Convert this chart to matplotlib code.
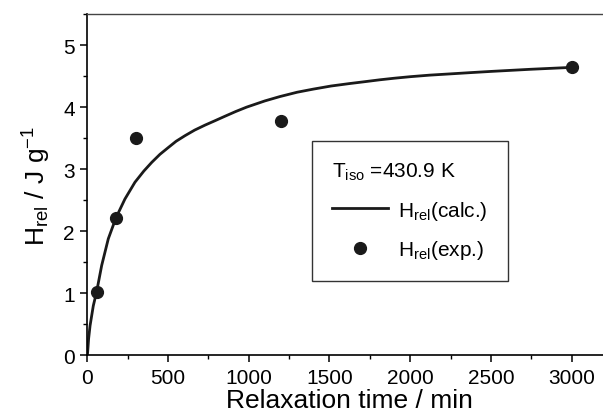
import numpy as np
import matplotlib
matplotlib.use("Agg")
import matplotlib.pyplot as plt
from matplotlib.lines import Line2D
from matplotlib.ticker import MultipleLocator

plt.rcParams["font.family"] = ["Liberation Sans", "DejaVu Sans"]
plt.rcParams["mathtext.fontset"] = "custom"
plt.rcParams["mathtext.rm"] = "Liberation Sans"
plt.rcParams["mathtext.it"] = "Liberation Sans:italic"

t_exp = [60, 180, 300, 1200, 3000]
h_exp = [1.02, 2.22, 3.51, 3.78, 4.65]

# Calculated curve
t_calc = [0, 2, 8, 17, 37, 58, 89, 130, 178, 233, 295, 350, 399, 450, 502,
          550, 605, 665, 729, 790, 850, 920, 987, 1100, 1193, 1300, 1400,
          1510, 1626, 1720, 1812, 1900, 2000, 2120, 2246, 2370, 2500, 2750,
          3000]
h_calc = [0, 0.05, 0.27, 0.48, 0.80, 1.03, 1.45, 1.88, 2.22, 2.52, 2.79, 2.97,
          3.11, 3.24, 3.35, 3.45, 3.54, 3.63, 3.71, 3.78, 3.85, 3.93, 4.00,
          4.10, 4.17, 4.24, 4.29, 4.34, 4.38, 4.41, 4.44, 4.465, 4.49, 4.515,
          4.535, 4.555, 4.575, 4.61, 4.64]

fig = plt.figure(figsize=(6.03, 4.14), dpi=100)
ax = fig.add_axes([0.1448, 0.1389, 0.870, 0.8249])

ax.plot(t_calc, h_calc, color="#1a1a1a", linewidth=2.0,
        solid_capstyle="round", solid_joinstyle="round")
ax.plot(t_exp, h_exp, "o", color="#1a1a1a", markersize=8.5, linestyle="none")

ax.set_xlim(0, 3250)
ax.set_ylim(0, 5.5)
ax.xaxis.set_major_locator(MultipleLocator(500))
ax.xaxis.set_minor_locator(MultipleLocator(250))
ax.yaxis.set_major_locator(MultipleLocator(1))
ax.yaxis.set_minor_locator(MultipleLocator(0.5))
ax.tick_params(which="major", direction="out", length=5, width=1.1,
               labelsize=15, pad=4)
ax.tick_params(which="minor", direction="out", length=3, width=1.0)

for side in ["left", "bottom"]:
    ax.spines[side].set_linewidth(1.2)
ax.spines["top"].set_linewidth(1.0)
ax.spines["top"].set_color("#444444")
ax.spines["right"].set_visible(False)

ax.set_xlabel("Relaxation time / min", fontsize=19, labelpad=1)
ax.set_ylabel(r"H$_{\rm rel}$ / J g$^{-1}$", fontsize=19, labelpad=7)

handles = [
    Line2D([], [], color="#1a1a1a", linewidth=2.0),
    Line2D([], [], marker="o", color="#1a1a1a", markersize=8.5, linestyle="none"),
]
labels = [r"H$_{\rm rel}$(calc.)", r"H$_{\rm rel}$(exp.)"]
leg = ax.legend(handles, labels, title=r"T$_{\rm iso}$ =430.9 K",
                loc="upper left", bbox_to_anchor=(0.428, 0.628),
                fontsize=15, title_fontsize=15, frameon=True, fancybox=False,
                edgecolor="black", handlelength=2.7, borderpad=0.95,
                labelspacing=0.8, handletextpad=0.5, borderaxespad=0)
leg._legend_box.align = "left"
leg.get_frame().set_linewidth(1.0)

fig.savefig("out.png", dpi=100)
